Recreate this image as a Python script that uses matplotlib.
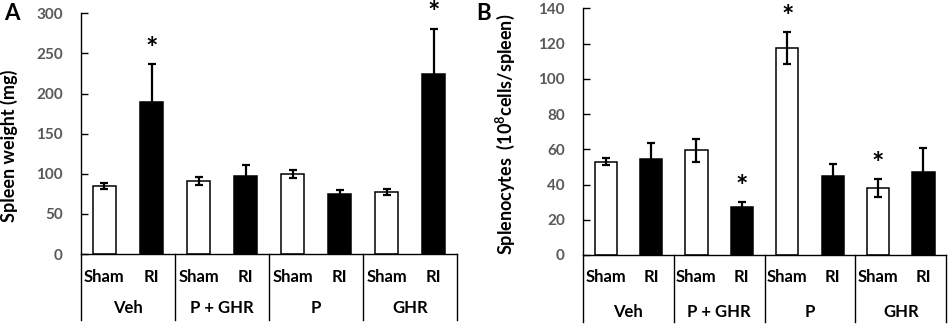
import matplotlib
matplotlib.use("Agg")
import matplotlib.pyplot as plt
import matplotlib.transforms as mtransforms

plt.rcParams['font.family'] = ['Lato', 'DejaVu Sans']
plt.rcParams['mathtext.fontset'] = 'custom'
plt.rcParams['mathtext.rm'] = 'Lato'
plt.rcParams['mathtext.bf'] = 'Lato:bold'
plt.rcParams['mathtext.default'] = 'bf'

groups = ["Veh", "P + GHR", "P", "GHR"]
conditions = ["Sham", "RI"]

# Panel A: spleen weight (mg)
a_sham = [85, 91, 100, 77]
a_sham_err = [4, 5, 5, 4]
a_ri = [190, 97, 75, 224]
a_ri_err = [47, 14, 5, 57]
a_star_sham = [False, False, False, False]
a_star_ri = [True, False, False, True]

# Panel B: splenocytes (10^8 cells/spleen)
b_sham = [53, 59.5, 117.5, 38]
b_sham_err = [2, 6.5, 9, 5]
b_ri = [54.5, 27, 45, 47]
b_ri_err = [9, 3, 6.5, 13.5]
b_star_sham = [False, False, True, True]
b_star_ri = [False, True, False, False]

fig = plt.figure(figsize=(9.48, 3.24), dpi=100)
axA = fig.add_axes([0.0854, 0.216, 0.397, 0.743])
axB = fig.add_axes([0.615, 0.213, 0.383, 0.761])

tick_color = '#595959'


def draw(ax, sham, sham_err, ri, ri_err, star_sham, star_ri, ymax, ystep,
         ylabel, ylab_x, ylab_y, lab_y, grp_y, line_y):
    n = len(groups)
    xs_sham = [i + 0.25 for i in range(n)]
    xs_ri = [i + 0.75 for i in range(n)]
    w = 0.245
    ekw = dict(ecolor='black', elinewidth=1.6, capsize=3, capthick=1.6)
    ax.bar(xs_sham, sham, w, color='white', edgecolor='black', linewidth=1.1,
           yerr=sham_err, error_kw=ekw, zorder=2)
    ax.bar(xs_ri, ri, w, color='black', edgecolor='black', linewidth=1.1,
           yerr=ri_err, error_kw=ekw, zorder=2)
    for xs, vals, errs, stars in ((xs_sham, sham, sham_err, star_sham),
                                  (xs_ri, ri, ri_err, star_ri)):
        for x, v, e, s in zip(xs, vals, errs, stars):
            if s:
                ax.annotate('*', xy=(x, v + e), xytext=(0, 11),
                            textcoords='offset points', ha='center',
                            va='center', fontsize=21, fontweight='bold',
                            annotation_clip=False)
    ax.set_xlim(0, n)
    ax.set_ylim(0, ymax)
    ax.set_yticks(range(0, ymax + 1, ystep))
    ax.tick_params(axis='y', direction='in', length=5, width=1.0,
                   colors='black', labelcolor=tick_color, labelsize=11, pad=13)
    for lbl in ax.get_yticklabels():
        lbl.set_fontweight('bold')
    ax.set_xticks([])
    for sp in ('top', 'right'):
        ax.spines[sp].set_visible(False)
    ax.spines['left'].set_linewidth(1.0)
    ax.spines['bottom'].set_linewidth(1.0)
    ax.set_ylabel(ylabel, fontsize=13, fontweight='bold')
    ax.yaxis.set_label_coords(ylab_x, ylab_y)
    trans = mtransforms.blended_transform_factory(ax.transData, ax.transAxes)
    for i in range(n + 1):
        ax.plot([i, i], [0, line_y], color='black', lw=1.0,
                transform=trans, clip_on=False)
    for i, g in enumerate(groups):
        ax.text(i + 0.25, lab_y, conditions[0], transform=trans, ha='center',
                va='center', fontsize=12, fontweight='bold')
        ax.text(i + 0.75, lab_y, conditions[1], transform=trans, ha='center',
                va='center', fontsize=12, fontweight='bold')
        ax.text(i + 0.5, grp_y, g, transform=trans, ha='center',
                va='center', fontsize=12, fontweight='bold')


draw(axA, a_sham, a_sham_err, a_ri, a_ri_err, a_star_sham, a_star_ri,
     300, 50, 'Spleen weight (mg)', -0.168, 0.45, -0.095, -0.225, -0.274)
draw(axB, b_sham, b_sham_err, b_ri, b_ri_err, b_star_sham, b_star_ri,
     140, 20, r'Splenocytes  (10$^{8}$cells/spleen)', -0.182, 0.49,
     -0.09, -0.23, -0.27)

fig.text(0.004, 0.99, 'A', fontsize=16, fontweight='bold', va='top', ha='left')
fig.text(0.502, 0.99, 'B', fontsize=16, fontweight='bold', va='top', ha='left')

fig.savefig('out.png', dpi=100)
